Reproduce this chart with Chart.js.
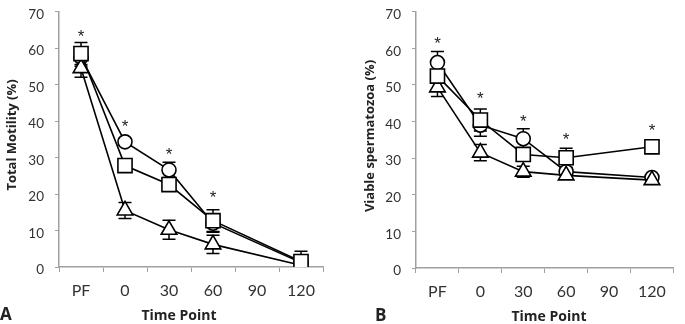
<!DOCTYPE html>
<html>
<head>
<meta charset="utf-8">
<script src="https://cdn.jsdelivr.net/npm/chart.js@4"></script>
<style>
  html, body { margin: 0; padding: 0; background: #fff; }
  #wrap { position: relative; width: 685px; height: 324px; }
  .panel { position: absolute; top: 0; height: 324px; }
  #panelA { left: 0; width: 342px; }
  #panelB { left: 342px; width: 343px; }
</style>
</head>
<body>
<div id="wrap">
  <div class="panel" id="panelA"><canvas id="chartA"></canvas></div>
  <div class="panel" id="panelB"><canvas id="chartB"></canvas></div>
</div>
<script>
// categories
const timePoints = ["PF", "0", "30", "60", "90", "120"]
const yTicks = [0, 10, 20, 30, 40, 50, 60, 70]

// Panel A - total motility (%)
const motilityCircle = [57.5, 34.3, 26.6, 12.0, null, 1.2]
const motilitySquare = [58.5, 27.8, 22.6, 12.7, null, 1.5]
const motilityTriangle = [54.5, 15.5, 10.2, 6.2, null, 0.5]
const motilityCircleErr = [2.5, 1.0, 2.1, 2.5, null, 1.0]
const motilitySquareErr = [3.0, 1.0, 1.0, 3.0, null, 2.8]
const motilityTriangleErr = [2.5, 2.2, 2.6, 2.5, null, 0.5]
const motilityStars = [64.5, 39.8, 32.0, 20.2, null, null]

// Panel B - viable spermatozoa (%)
const viableCircle = [56.1, 39.0, 35.3, 26.3, null, 24.7]
const viableSquare = [52.4, 40.4, 31.0, 30.1, null, 33.1]
const viableTriangle = [49.3, 31.5, 26.3, 25.3, null, 24.0]
const viableCircleErr = [3.0, 3.0, 2.7, 1.0, null, 0.5]
const viableSquareErr = [1.5, 3.0, 1.0, 2.6, null, 0.5]
const viableTriangleErr = [2.5, 2.2, 1.5, 1.0, null, 0.5]
const viableStars = [62.6, 47.6, 41.3, 36.4, null, 38.8]

const FONT = "Lato, 'Open Sans', sans-serif"
const TITLE_FONT = "'Open Sans', Lato, sans-serif"
const AXIS_GREY = "#a0a0a0"
const TEXT_COL = "#333"

// error bars, drawn under the markers
const errorBars = {
  id: "errorBars",
  beforeDatasetsDraw(chart) {
    const ctx = chart.ctx
    const y = chart.scales.y
    const area = chart.chartArea
    ctx.save()
    ctx.beginPath()
    ctx.rect(area.left - 20, area.top - 20, area.width + 40, area.height + 20)
    ctx.clip()
    ctx.strokeStyle = "#000"
    ctx.lineWidth = 1.5
    chart.data.datasets.forEach((ds, i) => {
      const meta = chart.getDatasetMeta(i)
      ds.data.forEach((v, j) => {
        const e = ds.errors ? ds.errors[j] : null
        if (v == null || e == null) return
        const px = meta.data[j].x
        const top = y.getPixelForValue(v + e)
        const bot = y.getPixelForValue(v - e)
        ctx.beginPath()
        ctx.moveTo(px, top); ctx.lineTo(px, bot)
        ctx.moveTo(px - 6.5, top); ctx.lineTo(px + 6.5, top)
        ctx.moveTo(px - 6.5, bot); ctx.lineTo(px + 6.5, bot)
        ctx.stroke()
      })
    })
    ctx.restore()
  }
}

// asterisks + titles
const extras = {
  id: "extras",
  afterDraw(chart, args, opts) {
    const ctx = chart.ctx
    const x = chart.scales.x
    const y = chart.scales.y
    ctx.save()
    ctx.fillStyle = "#222"
    ctx.font = "17px 'Liberation Sans'"
    ctx.textAlign = "center"
    ctx.textBaseline = "alphabetic"
    opts.stars.forEach((s, j) => {
      if (s == null) return
      ctx.fillText("*", x.getPixelForValue(j), y.getPixelForValue(s) + 10)
    })
    ctx.font = "bold 14px " + TITLE_FONT
    ctx.fillText("Time Point", opts.xTitle[0], opts.xTitle[1])
    ctx.font = "bold 17px " + TITLE_FONT
    ctx.textAlign = "left"
    ctx.fillText(opts.letter, opts.letterPos[0], opts.letterPos[1])
    ctx.translate(opts.yTitle[0], opts.yTitle[1])
    ctx.rotate(-Math.PI / 2)
    ctx.textAlign = "center"
    ctx.textBaseline = "middle"
    ctx.font = "bold 13px " + TITLE_FONT
    ctx.fillText(opts.yTitleText, 0, 0)
    ctx.restore()
  }
}

function series(data, errors, style, radius, order) {
  return {
    data, errors, order,
    borderColor: "#000",
    borderWidth: 1.6,
    pointStyle: style,
    pointRadius: radius,
    pointHoverRadius: radius,
    pointBackgroundColor: "#fff",
    pointBorderColor: "#000",
    pointBorderWidth: 1.6,
    spanGaps: true,
    tension: 0,
    fill: false,
  }
}

function makePanel(id, sets, stars, p) {
  new Chart(document.getElementById(id), {
    type: "line",
    data: {
      labels: timePoints,
      datasets: [
        series(sets[0], sets[1], "circle", 7, 2),
        series(sets[2], sets[3], "triangle", 9, 1),
        series(sets[4], sets[5], "rect", 10, 0),
      ],
    },
    options: {
      responsive: true,
      maintainAspectRatio: false,
      animation: false,
      layout: { padding: { top: p.top, right: p.right, bottom: 0, left: 0 } },
      plugins: {
        legend: { display: false },
        tooltip: { enabled: false },
        extras: { stars, letter: p.letter, letterPos: p.letterPos, xTitle: p.xTitle, yTitle: p.yTitle, yTitleText: p.yTitleText },
      },
      scales: {
        x: {
          type: "category",
          offset: true,
          grid: { offset: true, drawOnChartArea: false, drawTicks: true, tickLength: 5, color: AXIS_GREY },
          border: { color: AXIS_GREY, width: 1.5 },
          ticks: { color: TEXT_COL, font: { family: FONT, size: 16 }, padding: 9, maxRotation: 0 },
          afterFit(s) { s.height = p.xH; s.paddingLeft = 0; s.paddingRight = 0 },
        },
        y: {
          min: 0, max: 70,
          afterBuildTicks(s) { s.ticks = yTicks.map(v => ({ value: v })) },
          grid: { drawOnChartArea: false, drawTicks: true, tickLength: 4, color: AXIS_GREY },
          border: { color: AXIS_GREY, width: 1.5 },
          ticks: { color: TEXT_COL, font: { family: FONT, size: 13.5 }, padding: 11, labelOffset: 3 },
          afterFit(s) { s.width = p.yW; s.paddingTop = 0; s.paddingBottom = 0 },
        },
      },
    },
    plugins: [errorBars, extras],
  })
}

makePanel("chartA",
  [motilityCircle, motilityCircleErr, motilityTriangle, motilityTriangleErr, motilitySquare, motilitySquareErr],
  motilityStars,
  { top: 4, right: 19, xH: 57, yW: 59, letter: "A", letterPos: [0, 320], xTitle: [179, 320], yTitle: [12, 135], yTitleText: "Total Motility (%)" })

makePanel("chartB",
  [viableCircle, viableCircleErr, viableTriangle, viableTriangleErr, viableSquare, viableSquareErr],
  viableStars,
  { top: 10, right: 3, xH: 56, yW: 74, letter: "B", letterPos: [33, 321], xTitle: [207, 321], yTitle: [28, 136], yTitleText: "Viable spermatozoa (%)" })
</script>
</body>
</html>
